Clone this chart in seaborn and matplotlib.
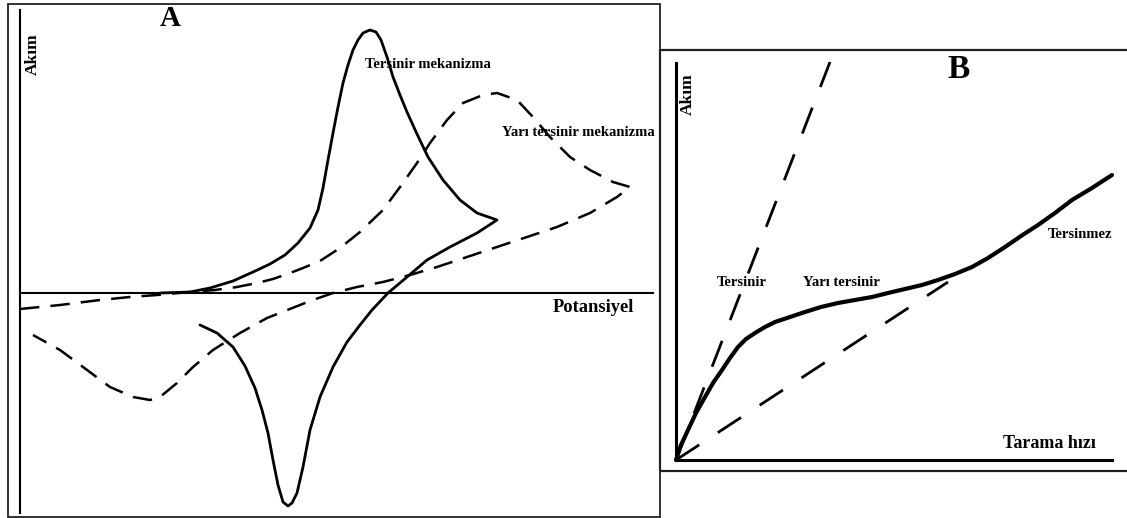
import matplotlib
matplotlib.use("Agg")
import matplotlib.pyplot as plt
import seaborn as sns
import pandas as pd
from matplotlib.patches import Rectangle

# ---------------- Panel A data (potential vs current, arbitrary units) ----------------
rev_E = [140, 170, 190, 213, 233, 250, 265, 278, 290, 298, 303, 308, 313, 318, 323, 328,
         333, 338, 343, 350, 356, 361, 367, 373, 380, 387, 397, 408, 423, 440, 457, 477,
         457, 430, 407, 387, 368, 352, 340, 327, 313, 300, 290, 283, 277, 272, 268, 263,
         258, 253, 248, 242, 235, 225, 213, 197, 180]
rev_I = [0, 1, 5, 12, 21, 29, 38, 50, 65, 83, 105, 133, 160, 186, 210, 228,
         243, 253, 260, 263, 261, 253, 236, 216, 198, 181, 159, 136, 113, 93, 80, 73,
         60, 46, 33, 16, 0, -17, -32, -49, -74, -104, -137, -174, -200, -210, -213, -209,
         -192, -167, -140, -117, -95, -73, -54, -40, -32]

qrev_E = [0, 40, 80, 110, 137, 170, 195, 217, 237, 253, 270, 283, 300, 320, 340, 363,
          380, 397, 410, 427, 443, 463, 477, 497, 513, 530, 550, 570, 593, 610,
          597, 570, 537, 507, 477, 447, 417, 390, 363, 337, 313, 290, 280, 247, 220,
          193, 173, 157, 140, 130, 113, 90, 63, 40, 13]
qrev_I = [-16, -12, -7, -4, -2, 1, 3, 6, 10, 14, 20, 25, 32, 45, 61, 83,
          106, 130, 150, 173, 190, 198, 200, 193, 176, 156, 136, 123, 111, 106,
          96, 80, 66, 56, 46, 36, 26, 18, 11, 6, 0, -8, -12, -25, -40,
          -57, -74, -90, -104, -107, -104, -94, -74, -57, -42]

# ---------------- Panel B data (scan rate vs current, arbitrary units) ----------------
rev_line_v = [0, 154]
rev_line_i = [0, 398]
irr_line_v = [0, 272]
irr_line_i = [0, 178]
quasi_v = [0, 5, 12, 20, 29, 37, 46, 54, 62, 70, 79, 89, 99, 114, 129, 145, 162, 179,
           196, 212, 229, 246, 262, 279, 296, 312, 329, 345, 362, 379, 396, 416, 436]
quasi_i = [0, 15, 30, 47, 63, 77, 90, 102, 113, 121, 127, 133, 138, 143, 148, 153, 157, 160,
           163, 167, 171, 175, 180, 186, 193, 202, 213, 224, 235, 247, 260, 272, 285]

sns.set_style("white")
plt.rcParams['font.family'] = ['Liberation Serif', 'DejaVu Serif']
plt.rcParams['lines.scale_dashes'] = False

W, H = 1127, 518
fig = plt.figure(figsize=(W / 100, H / 100), dpi=100)
fig.patch.set_facecolor("white")

axA = fig.add_axes([8 / W, 1 - 517 / H, 652 / W, 513 / H])
axB = fig.add_axes([660 / W, 1 - 471 / H, 467 / W, 421 / H])

# ---- Panel A ----
sns.lineplot(x=rev_E, y=rev_I, sort=False, estimator=None, color="black",
             linewidth=2.0, ax=axA)
sns.lineplot(x=qrev_E, y=qrev_I, sort=False, estimator=None, color="black",
             linewidth=1.8, linestyle=(0, (14, 8)), ax=axA)
axA.set_xlim(-12, 640)
axA.set_ylim(-224, 289)

# ---- Panel B ----
sns.lineplot(x=rev_line_v, y=rev_line_i, sort=False, estimator=None, color="black",
             linewidth=2.0, linestyle=(0, (20, 16)), ax=axB)
sns.lineplot(x=irr_line_v, y=irr_line_i, sort=False, estimator=None, color="black",
             linewidth=2.0, linestyle=(0, (20, 16)), ax=axB)
sns.lineplot(x=quasi_v, y=quasi_i, sort=False, estimator=None, color="black",
             linewidth=3.0, ax=axB, solid_capstyle="round")
axB.set_xlim(-16, 451)
axB.set_ylim(-11, 410)

for ax, lw in ((axA, 1.5), (axB, 2.2)):
    ax.set_xticks([])
    ax.set_yticks([])
    ax.set_xlabel("")
    ax.set_ylabel("")
    ax.set_facecolor("white")
    for s in ("top", "right"):
        ax.spines[s].set_visible(False)
    for s in ("left", "bottom"):
        ax.spines[s].set_position(("data", 0))
        ax.spines[s].set_color("black")
        ax.spines[s].set_linewidth(lw)

axA.spines["left"].set_bounds(-220, 283)
axA.spines["bottom"].set_bounds(0, 633)
axB.spines["left"].set_bounds(0, 397)
axB.spines["bottom"].set_bounds(0, 436)

# outer frames
axA.add_patch(Rectangle((0, 0), 1, 1, transform=axA.transAxes, fill=False,
                        ec="#222222", lw=1.3, clip_on=False, zorder=5))
axB.add_patch(Rectangle((0, 0), 1.02, 1, transform=axB.transAxes, fill=False,
                        ec="#222222", lw=1.6, clip_on=False, zorder=5))

bold = dict(fontweight="bold", color="black")

# Panel A texts
axA.text(150, 274, "A", fontsize=21, ha="center", va="center", **bold)
axA.text(13, 239, "Akım", fontsize=12.5, rotation=90, ha="center", va="center", **bold)
axA.text(345, 228, "Tersinir mekanizma", fontsize=10.5, ha="left", va="center", **bold)
axA.text(482, 160, "Yarı tersinir mekanizma", fontsize=10.5, ha="left", va="center", **bold)
axA.text(533, -15, "Potansiyel", fontsize=13.3, ha="left", va="center", **bold)

# Panel B texts
axB.text(283, 390, "B", fontsize=24, ha="center", va="center", **bold)
axB.text(12, 366, "Akım", fontsize=12.5, rotation=90, ha="center", va="center", **bold)
axB.text(41, 177, "Tersinir", fontsize=10.5, ha="left", va="center", **bold)
axB.text(127, 177, "Yarı tersinir", fontsize=10.5, ha="left", va="center", **bold)
axB.text(372, 225, "Tersinmez", fontsize=10.5, ha="left", va="center", **bold)
axB.text(327, 17, "Tarama hızı", fontsize=13, ha="left", va="center", **bold)

fig.savefig("out.png", dpi=100, facecolor="white")
